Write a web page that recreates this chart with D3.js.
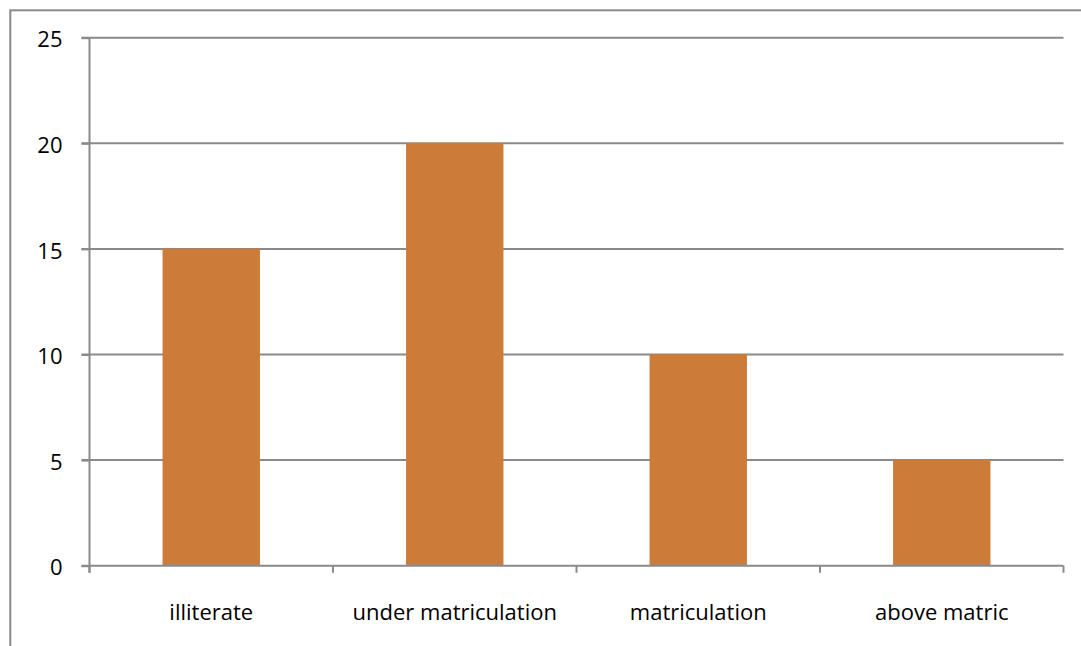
<!DOCTYPE html>
<html>
<head>
<meta charset="utf-8">
<script src="https://cdn.jsdelivr.net/npm/d3@7"></script>
<style>
  html, body { margin: 0; padding: 0; background: #fff; }
  svg { display: block; }
  text { font-family: "Open Sans", "Noto Sans", sans-serif; fill: #000; }
</style>
</head>
<body>
<svg id="chart" width="1081" height="646"></svg>
<script>
const categories = ["illiterate", "under matriculation", "matriculation", "above matric"];
const values = [15, 20, 10, 5];
const yTicks = [0, 5, 10, 15, 20, 25];

const W = 1081, H = 646;
const margin = { left: 89.5, right: 1063.5, top: 37.7, bottom: 565.7 };
const svg = d3.select("#chart");
const lineColor = "#8a8a8a";

// outer chart border
svg.append("rect")
  .attr("x", 10.3).attr("y", 10.3)
  .attr("width", W + 20).attr("height", H + 20)
  .attr("fill", "none").attr("stroke", lineColor).attr("stroke-width", 2);

const x = d3.scaleBand().domain(categories).range([margin.left, margin.right]).paddingInner(0.6).paddingOuter(0.3);
const xb = d3.scaleBand().domain(categories).range([margin.left, margin.right]);
const y = d3.scaleLinear().domain([0, 25]).range([margin.bottom, margin.top]);

// gridlines
svg.append("g").selectAll("line").data(yTicks.filter(d => d > 0)).join("line")
  .attr("x1", margin.left - 8).attr("x2", margin.right)
  .attr("y1", d => y(d)).attr("y2", d => y(d))
  .attr("stroke", lineColor).attr("stroke-width", 2);

// bars
svg.append("g").selectAll("rect").data(values).join("rect")
  .attr("x", (d, i) => x(categories[i]))
  .attr("width", x.bandwidth())
  .attr("y", d => y(d))
  .attr("height", d => y(0) - y(d))
  .attr("fill", "#CC7B39");

// y axis
const yAxis = d3.axisLeft(y).tickValues(yTicks).tickSize(8).tickPadding(19);
const gy = svg.append("g").attr("transform", `translate(${margin.left},0)`).call(yAxis);
gy.select(".domain").attr("d", `M0,${margin.top}V${margin.bottom + 7}`).attr("stroke", lineColor).attr("stroke-width", 2);
gy.selectAll(".tick line").attr("stroke", lineColor).attr("stroke-width", 2);
gy.selectAll(".tick text").attr("font-size", 22).attr("font-family", "Open Sans").attr("fill", "#000").attr("dy", "0.42em");

// x axis
const xAxis = d3.axisBottom(xb).tickSize(0).tickPadding(39);
const gx = svg.append("g").attr("transform", `translate(0,${margin.bottom})`).call(xAxis);
gx.select(".domain").attr("d", `M${margin.left - 8},0H${margin.right}`).attr("stroke", lineColor).attr("stroke-width", 2);
gx.selectAll(".tick text").attr("font-size", 22).attr("font-family", "Open Sans").attr("fill", "#000");
// category boundary ticks
const bounds = categories.map(c => xb(c)).concat([margin.right]);
svg.append("g").selectAll("line").data(bounds).join("line")
  .attr("x1", d => d).attr("x2", d => d)
  .attr("y1", margin.bottom).attr("y2", margin.bottom + 7)
  .attr("stroke", lineColor).attr("stroke-width", 2);
</script>
</body>
</html>
